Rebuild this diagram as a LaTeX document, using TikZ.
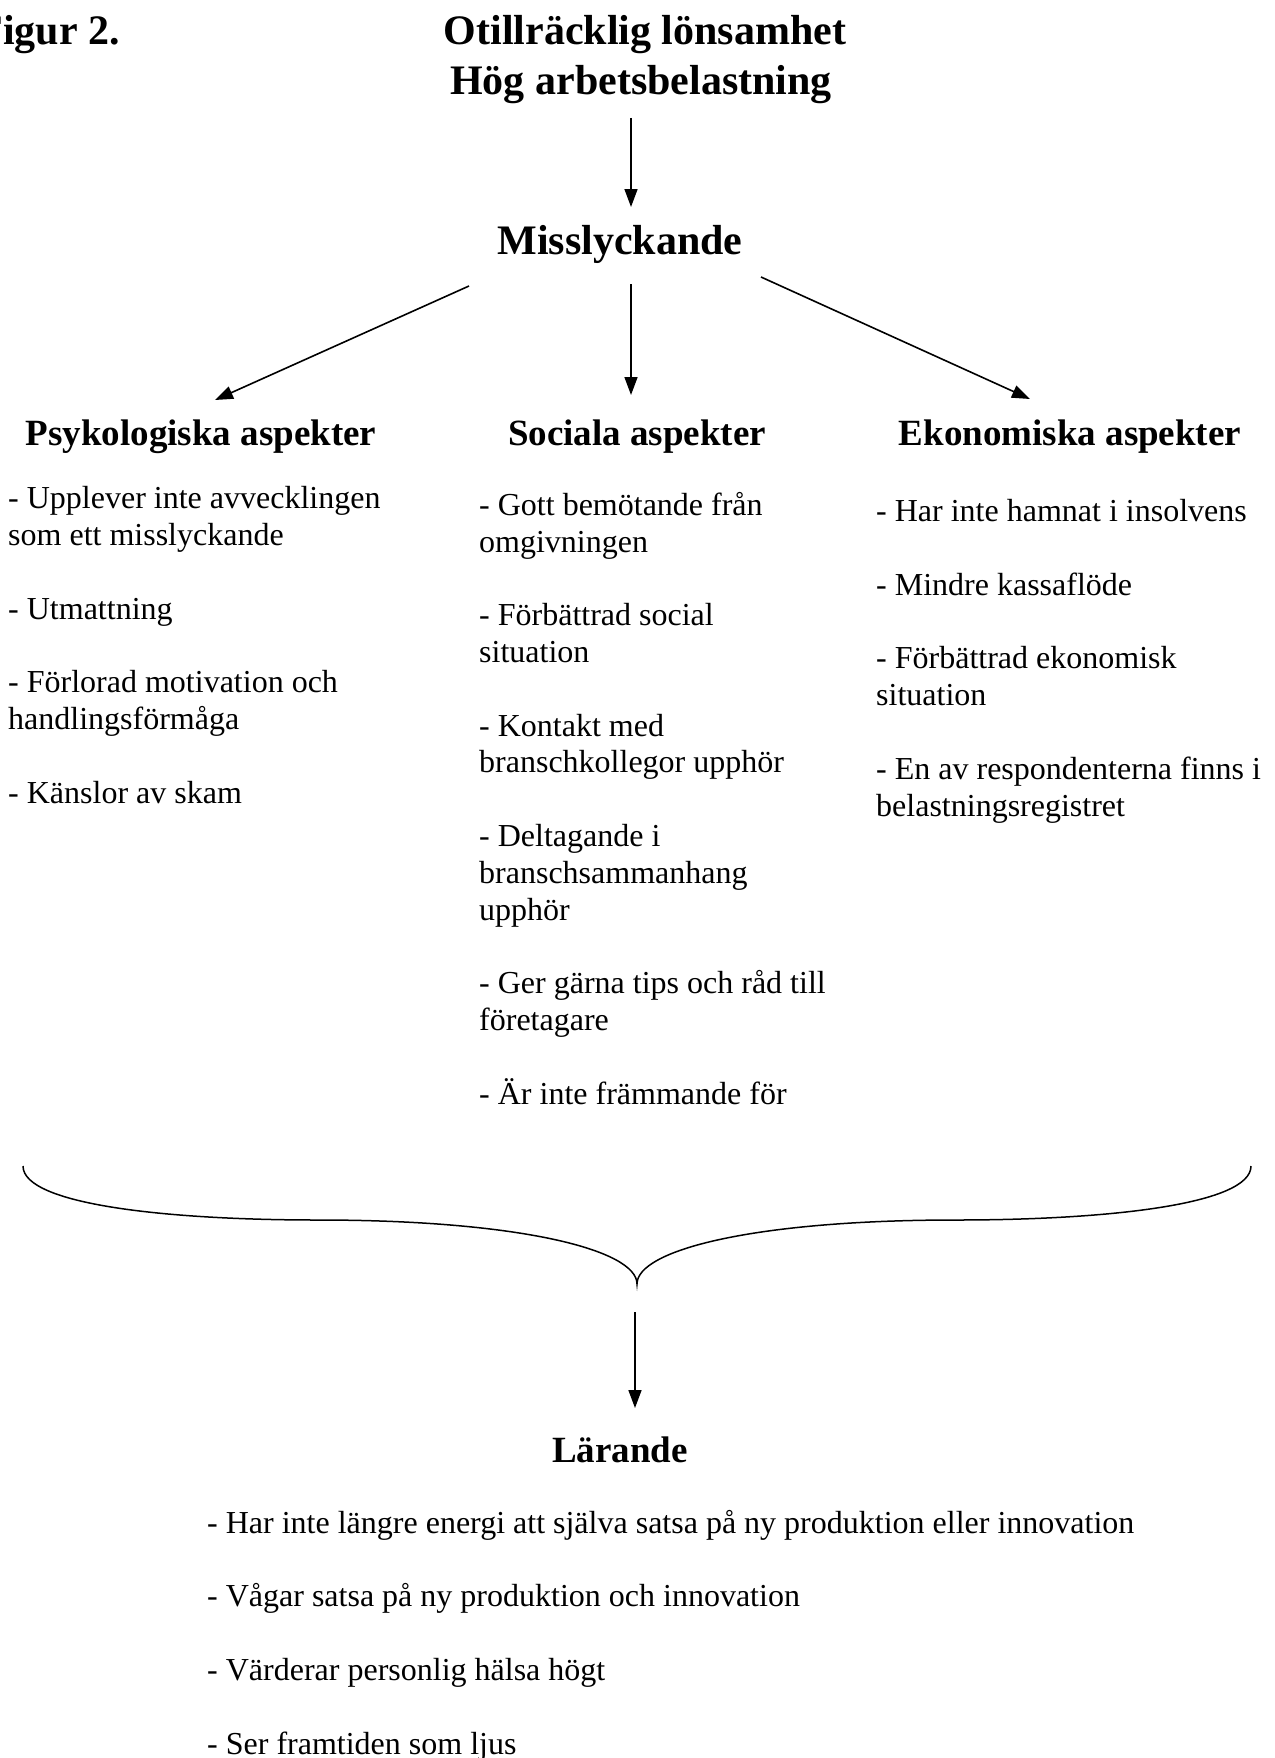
\documentclass[tikz,border=0pt]{standalone}
\usepackage{fontspec}
\setmainfont{Liberation Serif}
\usetikzlibrary{arrows.meta}
\tikzset{
  head/.style={font=\bfseries\fontsize{42}{50}\selectfont, inner sep=0pt},
  subhead/.style={font=\bfseries\fontsize{37}{44}\selectfont, inner sep=0pt, anchor=base},
  list/.style={font=\fontsize{32}{36.8}\selectfont, align=left, inner sep=0pt, anchor=base west},
  arr/.style={line width=1.6pt, -{Triangle[length=18pt,width=13pt]}},
}
\newcommand{\gap}{\\[36.8pt]}
\begin{document}
\begin{tikzpicture}[x=1pt,y=-1pt]
        \useasboundingbox (0,0) rectangle (1274,1758);
        \node[head, anchor=base east] (fig) at (120,45) {Figur 2.};
        \node[head, anchor=base] (orsak1) at (645,45) {Otillräcklig lönsamhet};
        \node[head, anchor=base] (orsak2) at (641,95) {Hög arbetsbelastning};
        \node[head, anchor=base] (miss) at (620,254) {Misslyckande};
        \node[subhead] (psyk) at (201,445) {Psykologiska aspekter};
        \node[subhead] (soc) at (637,445) {Sociala aspekter};
        \node[subhead] (ekon) at (1070,445) {Ekonomiska aspekter};
        \node[subhead] (lar) at (620,1462) {Lärande};
        % aspekter (base = sista raden)
        \node[list] (psyklista) at (8,803) {- Upplever inte avvecklingen\\som ett misslyckande\gap
            - Utmattning\gap
            - Förlorad motivation och\\handlingsförmåga\gap
            - Känslor av skam};
        \node[list] (soclista) at (479,1104) {- Gott bemötande från\\omgivningen\gap
            - Förbättrad social\\situation\gap
            - Kontakt med\\branschkollegor upphör\gap
            - Deltagande i\\branschsammanhang\\upphör\gap
            - Ger gärna tips och råd till\\företagare\gap
            - Är inte främmande för};
        \node[list] (ekonlista) at (876,816) {- Har inte hamnat i insolvens\gap
            - Mindre kassaflöde\gap
            - Förbättrad ekonomisk\\situation\gap
            - En av respondenterna finns i\\belastningsregistret};
        \node[list] (larlista) at (207,1754) {- Har inte längre energi att själva satsa på ny produktion eller innovation\gap
            - Vågar satsa på ny produktion och innovation\gap
            - Värderar personlig hälsa högt\gap
            - Ser framtiden som ljus};
        % pilar
        \coordinate (orsakut) at (631,118);
        \coordinate (missin) at (631,207);
        \coordinate (missV) at (469,286);
        \coordinate (missM) at (631,284);
        \coordinate (missH) at (761,277);
        \coordinate (psykin) at (215,400);
        \coordinate (socin) at (631,395);
        \coordinate (ekonin) at (1030,399);
        \draw[arr] (orsakut) -- (missin);
        \draw[arr] (missV) -- (psykin);
        \draw[arr] (missM) -- (socin);
        \draw[arr] (missH) -- (ekonin);
        % klammer
        \coordinate (klamV) at (23,1166);
        \coordinate (klamH) at (1251,1166);
        \coordinate (klamS) at (637,1284);
        \draw[line width=1.5pt] (klamV) .. controls (23,1205) and (170,1220) .. (318,1220)
            .. controls (520,1220) and (637,1250) .. (klamS)
            .. controls (637,1250) and (754,1220) .. (956,1220)
            .. controls (1104,1220) and (1251,1205) .. (klamH);
        \coordinate (larut) at (635,1312);
        \coordinate (larin) at (635,1408);
        \draw[arr] (larut) -- (larin);
\end{tikzpicture}
\end{document}
